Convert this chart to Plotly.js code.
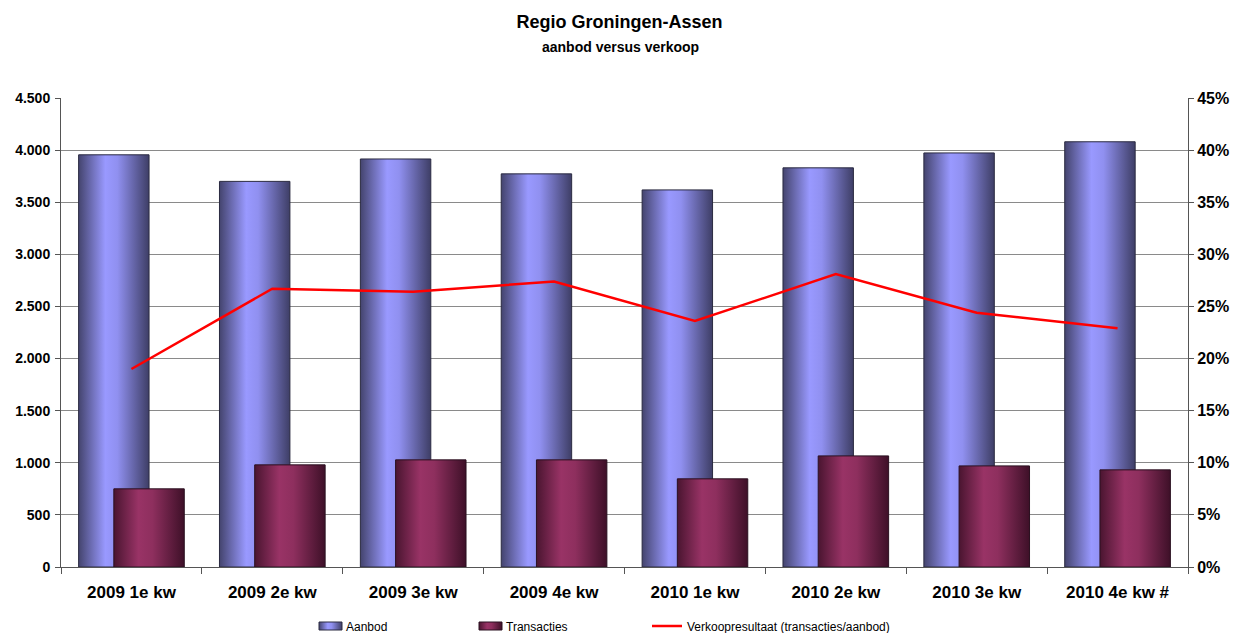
<!DOCTYPE html>
<html>
<head>
<meta charset="utf-8">
<script src="https://cdn.plot.ly/plotly-3.0.1.min.js"></script>
<style>html,body{margin:0;padding:0;background:#fff;}#chart{width:1239px;height:633px;}</style>
</head>
<body>
<div id="chart"></div>
<script>
const categories = ["2009 1e kw","2009 2e kw","2009 3e kw","2009 4e kw","2010 1e kw","2010 2e kw","2010 3e kw","2010 4e kw #"];
const aanbod = [3955, 3700, 3915, 3772, 3618, 3830, 3973, 4080];
const transacties = [750, 980, 1028, 1028, 846, 1066, 970, 932];
const verkoopresultaat = [0.190, 0.267, 0.264, 0.274, 0.236, 0.281, 0.244, 0.229];

const fontFam = "Liberation Sans, Arial, sans-serif";

const traces = [
  {type:'bar', name:'Aanbod', x:categories, y:aanbod, width:0.5, offset:-0.375, legend:'legend',
   marker:{color:'#9090f0', line:{color:'#2a2a40', width:1}}, yaxis:'y'},
  {type:'bar', name:'Transacties', x:categories, y:transacties, width:0.5, offset:-0.125, legend:'legend2',
   marker:{color:'#993366', line:{color:'#2a1020', width:1}}, yaxis:'y'},
  {type:'scatter', mode:'lines', name:'Verkoopresultaat (transacties/aanbod)', x:categories, y:verkoopresultaat,
   legend:'legend3', line:{color:'#ff0000', width:2.5}, yaxis:'y2'}
];

function leg(textX){
  return {orientation:'h', x:(textX-39)/1239, xanchor:'left', xref:'container',
    y:1-626/633, yref:'container', yanchor:'middle', itemwidth:30,
    font:{family:fontFam, size:12, color:'#000'}, bgcolor:'rgba(0,0,0,0)'};
}

const layout = {
  width:1239, height:633,
  margin:{l:61, r:51, t:98, b:66, autoexpand:false},
  paper_bgcolor:'#ffffff', plot_bgcolor:'#ffffff',
  separators:',.',
  barmode:'overlay',
  showlegend:true,
  font:{family:fontFam, color:'#000'},
  title:{text:'Regio Groningen-Assen', font:{family:fontFam, size:18, weight:700, color:'#000'},
         x:0.5, xanchor:'center', xref:'container', y:1-22/633, yanchor:'middle', yref:'container'},
  annotations:[{text:'aanbod versus verkoop', xref:'paper', yref:'paper', x:(620-61)/1127, y:(567-47)/469,
    xanchor:'center', yanchor:'middle', showarrow:false, font:{family:fontFam, size:14, weight:700, color:'#000'}}],
  xaxis:{type:'category', showgrid:false, showline:true, linecolor:'#555', linewidth:1,
    ticks:'outside', tickson:'boundaries', ticklen:6, tickcolor:'#555',
    tickfont:{family:fontFam, size:17, weight:700, color:'#000'}, ticklabelstandoff:10,
    range:[-0.5, 7.5], fixedrange:true},
  yaxis:{range:[0,4500], dtick:500, tickformat:',d', showgrid:true, gridcolor:'#8a8a8a', gridwidth:1,
    showline:true, linecolor:'#555', linewidth:1, ticks:'outside', ticklen:5, tickcolor:'#555',
    tickfont:{family:fontFam, size:14, weight:700, color:'#000'}, ticklabelstandoff:2, zeroline:false},
  yaxis2:{range:[0,0.45], dtick:0.05, tickformat:'.0%', overlaying:'y', side:'right', showgrid:false,
    showline:true, linecolor:'#555', linewidth:1, ticks:'outside', ticklen:5, tickcolor:'#555',
    tickfont:{family:fontFam, size:16, weight:700, color:'#000'}, zeroline:false},
  legend: leg(345),
  legend2: leg(505),
  legend3: leg(686)
};

Plotly.newPlot('chart', traces, layout, {staticPlot:true, displayModeBar:false}).then(function(gd){
  const svg = gd.querySelector('svg.main-svg');
  const ns = 'http://www.w3.org/2000/svg';
  let defs = svg.querySelector('defs');
  if(!defs){ defs = document.createElementNS(ns,'defs'); svg.insertBefore(defs, svg.firstChild); }
  function grad(id, stops){
    const g = document.createElementNS(ns,'linearGradient');
    g.setAttribute('id', id); g.setAttribute('x1','0'); g.setAttribute('x2','1'); g.setAttribute('y1','0'); g.setAttribute('y2','0');
    stops.forEach(function(s){
      const st = document.createElementNS(ns,'stop');
      st.setAttribute('offset', s[0]); st.setAttribute('stop-color', s[1]);
      g.appendChild(st);
    });
    defs.appendChild(g);
  }
  grad('gAanbod', [['0','#44446e'],['0.38','#9999ff'],['0.55','#9090f0'],['1','#3e3e66']]);
  grad('gTrans', [['0','#4a1530'],['0.35','#993366'],['0.55','#8e2f5e'],['1','#3e1028']]);
  const barTraces = gd.querySelectorAll('.barlayer .trace');
  barTraces.forEach(function(t, i){
    t.querySelectorAll('path').forEach(function(p){
      p.style.fill = i === 0 ? 'url(#gAanbod)' : 'url(#gTrans)';
    });
  });
  const legendIds = ['legend', 'legend2'];
  legendIds.forEach(function(id, i){
    const lg = gd.querySelector('g.' + id);
    if(!lg) return;
    lg.querySelectorAll('.legendpoints path').forEach(function(p){
      p.setAttribute('d', 'M-7,-4H16V4H-7Z');
      p.style.fill = i === 0 ? 'url(#gAanbod)' : 'url(#gTrans)';
      p.style.stroke = i === 0 ? '#2a2a40' : '#2a1020';
      p.style.strokeWidth = '1px';
    });
  });
});
</script>
</body>
</html>
